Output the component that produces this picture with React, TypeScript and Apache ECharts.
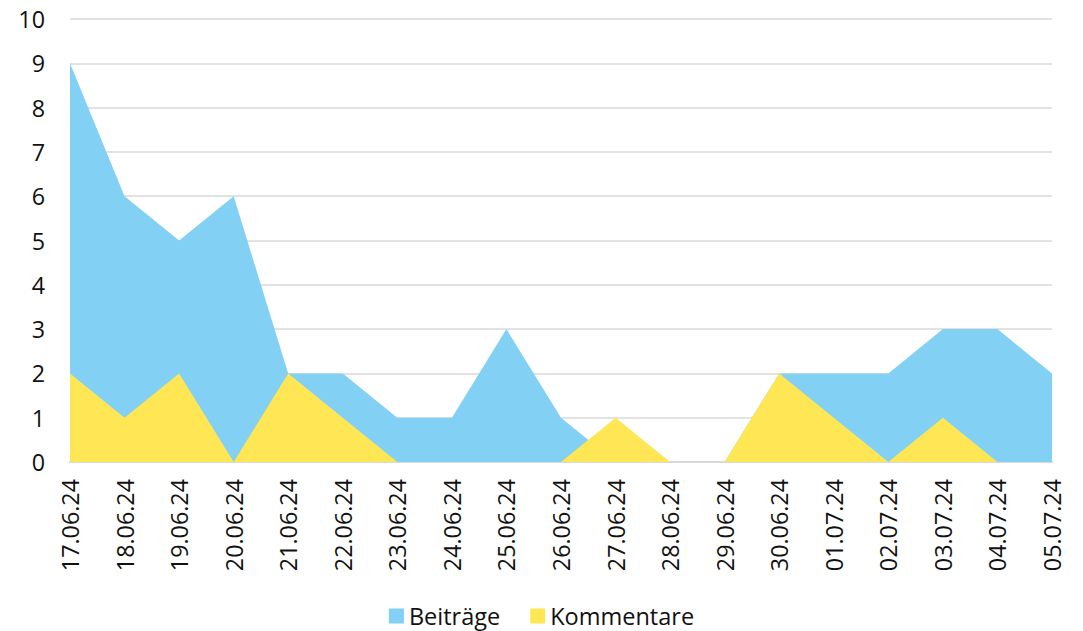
import React, { useEffect, useRef } from "react";
import * as echarts from "echarts";

const categories = [
  "17.06.24", "18.06.24", "19.06.24", "20.06.24", "21.06.24", "22.06.24", "23.06.24",
  "24.06.24", "25.06.24", "26.06.24", "27.06.24", "28.06.24", "29.06.24", "30.06.24",
  "01.07.24", "02.07.24", "03.07.24", "04.07.24", "05.07.24",
];
const beitraege = [9, 6, 5, 6, 2, 2, 1, 1, 3, 1, 0, 0, 0, 2, 2, 2, 3, 3, 2];
const kommentare = [2, 1, 2, 0, 2, 1, 0, 0, 0, 0, 1, 0, 0, 2, 1, 0, 1, 0, 0];

const BLUE = "#83D0F5";
const YELLOW = "#FFE655";
const FONT = "Open Sans";

export default function App() {
  const ref = useRef<HTMLDivElement>(null);
  useEffect(() => {
    if (!ref.current) return;
    const chart = echarts.init(ref.current, null, { renderer: "svg" });
    chart.setOption({
      animation: false,
      textStyle: { fontFamily: FONT },
      grid: { left: 70, right: 31, top: 19, bottom: 169, containLabel: false },
      legend: {
        top: 604,
        left: "center",
        padding: 0,
        icon: "rect",
        itemWidth: 15,
        itemHeight: 15,
        itemGap: 30,
        textStyle: { fontFamily: FONT, fontSize: 23.5, lineHeight: 24, color: "#111" },
        data: ["Beiträge", "Kommentare"],
      },
      xAxis: {
        type: "category",
        data: categories,
        boundaryGap: false,
        axisLine: { show: true, lineStyle: { color: "#D9D9D9", width: 2 } },
        axisTick: { show: false },
        axisLabel: {
          rotate: 90,
          margin: 17,
          fontSize: 23.3,
          fontFamily: FONT,
          color: "#111",
          interval: 0,
        },
      },
      yAxis: {
        type: "value",
        min: 0,
        max: 10,
        interval: 1,
        axisLine: { show: false },
        axisTick: { show: false },
        splitLine: { lineStyle: { color: "#D9D9D9", width: 1.5 } },
        axisLabel: { margin: 25, fontSize: 23.3, fontFamily: FONT, color: "#111" },
      },
      series: [
        {
          name: "Beiträge",
          type: "line",
          data: beitraege,
          showSymbol: false,
          symbol: "none",
          lineStyle: { width: 0, color: BLUE },
          itemStyle: { color: BLUE },
          areaStyle: { color: BLUE, opacity: 1 },
        },
        {
          name: "Kommentare",
          type: "line",
          data: kommentare,
          showSymbol: false,
          symbol: "none",
          lineStyle: { width: 0, color: YELLOW },
          itemStyle: { color: YELLOW },
          areaStyle: { color: YELLOW, opacity: 1 },
        },
      ],
    });
    return () => chart.dispose();
  }, []);
  return (
    <div
      ref={ref}
      style={{ position: "absolute", left: 0, top: 0, width: 1083, height: 631 }}
    />
  );
}
